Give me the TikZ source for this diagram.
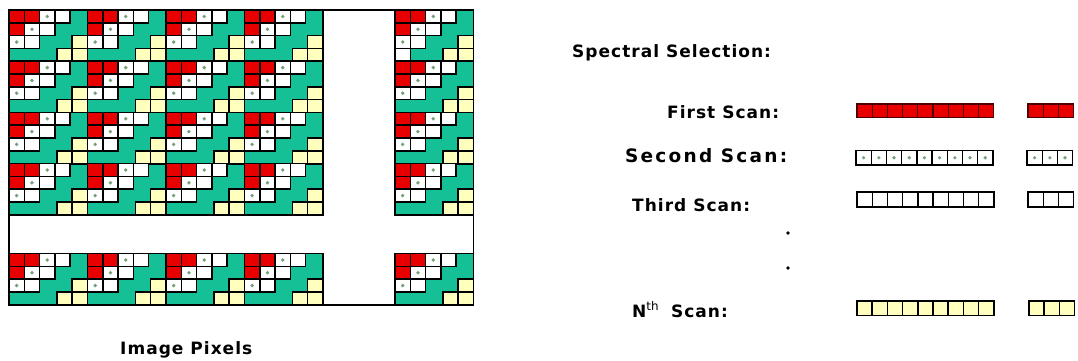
\documentclass[tikz,border=0pt]{standalone}
\usepackage{fontspec}
\setmainfont{DejaVu Sans}
\newfontfamily\lblfont{DejaVu Sans}[LetterSpace=6]
\usetikzlibrary{positioning}

\definecolor{pixgreen}{RGB}{22,192,150}
\definecolor{pixred}{RGB}{232,0,0}
\definecolor{pixyellow}{RGB}{255,255,190}
\definecolor{pixdot}{RGB}{120,160,125}

% square size and block size (px)
\def\sw{15.3}
\def\sh{12.8}
\def\bw{78.5}
\def\bh{51.2}

% one 8x8 block of pixels, top-left corner at #1,#2
\newcommand{\pixblock}[2]{%
  \begin{scope}[shift={(#1,#2)}]
    \draw[blockbox] (0,0) rectangle (\bw,\bh);
    \draw[redsq] (0,0) rectangle ++(\sw,\sh);
    \draw[redsq] (\sw,0) rectangle ++(\sw,\sh);
    \draw[redsq] (0,\sh) rectangle ++(\sw,\sh);
    \draw[dotsq] ({2*\sw},0) rectangle ++(\sw,\sh);
    \fill[pixdot] ({2.5*\sw},{0.5*\sh}) circle (1.9);
    \draw[dotsq] (\sw,\sh) rectangle ++(\sw,\sh);
    \fill[pixdot] ({1.5*\sw},{1.5*\sh}) circle (1.9);
    \draw[dotsq] (0,{2*\sh}) rectangle ++(\sw,\sh);
    \fill[pixdot] ({0.5*\sw},{2.5*\sh}) circle (1.9);
    \draw[whitesq] ({3*\sw},0) rectangle ++(\sw,\sh);
    \draw[whitesq] ({2*\sw},\sh) rectangle ++(\sw,\sh);
    \draw[whitesq] (\sw,{2*\sh}) rectangle ++(\sw,\sh);
    \draw[yellowsq] ({\bw-\sw},{2*\sh}) rectangle ++(\sw,\sh);
    \draw[yellowsq] ({\bw-2*\sw},{3*\sh}) rectangle ++(\sw,\sh);
    \draw[yellowsq] ({\bw-\sw},{3*\sh}) rectangle ++(\sw,\sh);
  \end{scope}}

% a row of #4 scan squares, left edge #1, top #2, height #3
\newcommand{\scanbar}[5]{%
  \foreach \i in {1,...,#4}
    \draw[#5] ({#1+(\i-1)*15.2},#2) rectangle ++(15.2,#3);}

\begin{document}
\begin{tikzpicture}[
  x=1pt, y=-1pt,
  blockbox/.style={draw, fill=pixgreen, line width=1.8pt},
  redsq/.style={draw, fill=pixred, line width=1.5pt},
  dotsq/.style={draw, fill=white, line width=1.5pt},
  whitesq/.style={draw, fill=white, line width=1.5pt},
  yellowsq/.style={draw, fill=pixyellow, line width=1.5pt},
  scanred/.style={draw=black!70!red, fill=pixred, line width=1.2pt},
  scanwhite/.style={draw, fill=white, line width=1.4pt},
  scanyellow/.style={draw, fill=pixyellow, line width=1.6pt},
  lbl/.style={font=\lblfont\fontsize{17}{20}\selectfont\bfseries, inner sep=0pt, anchor=base west}
]
\useasboundingbox (0,0) rectangle (1078,360);

% image pixels
\foreach \bx in {9,87.5,166,244.5,395}
  \foreach \by in {10,61.2,112.4,163.6,253.5}
    \pixblock{\bx}{\by};
\draw[whitesq] (395,{10+3*\sh}) rectangle ++(\sw,\sh);
\draw[line width=1.8pt] (9,10) rectangle (473.5,305);
\node[lbl] (pixels) at (120,354) {Image Pixels};

% spectral selection scans
\node[lbl] (spectral) at (572,57) {Spectral Selection:};
\node[lbl] (first) at (667,118) {First Scan:};
\node[lbl] (second) at (625,162) {\fontsize{18.5}{20}\selectfont\addfontfeature{LetterSpace=12}Second Scan:};
\node[lbl] (third) at (632,211) {Third Scan:};
\node[lbl] (nth) at (632,317) {N\textsuperscript{\normalfont th}\hspace{12pt}Scan:};
\node[circle, fill, inner sep=1.3pt] (dota) at (788,233) {};
\node[circle, fill, inner sep=1.3pt] (dotb) at (788,268) {};

\scanbar{857}{104}{13.5}{9}{scanred}
\scanbar{1028}{104}{13.5}{3}{scanred}
\scanbar{856}{150.5}{14.5}{9}{scanwhite}
\scanbar{1027}{150.5}{14.5}{3}{scanwhite}
\foreach \i in {1,...,9}
  \fill[pixdot] ({856+(\i-0.5)*15.2},157.75) circle (1.8);
\foreach \i in {1,...,3}
  \fill[pixdot] ({1027+(\i-0.5)*15.2},157.75) circle (1.8);
\scanbar{857}{192}{15}{9}{scanwhite}
\scanbar{1028}{192}{15}{3}{scanwhite}
\scanbar{857}{301}{14.5}{9}{scanyellow}
\scanbar{1029}{301}{14.5}{3}{scanyellow}
\end{tikzpicture}
\end{document}
